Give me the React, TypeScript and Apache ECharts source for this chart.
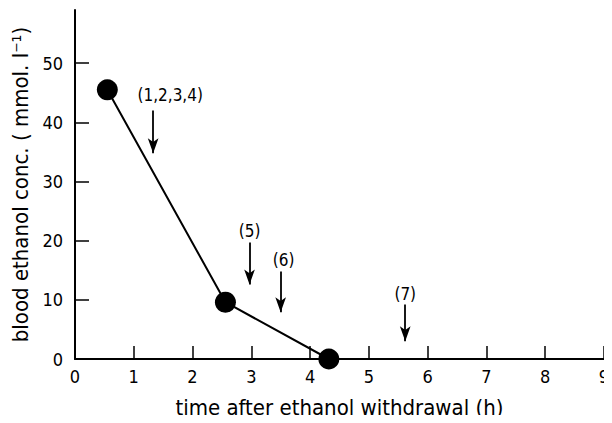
import React, { useEffect, useRef } from "react";
import * as echarts from "echarts";

// measured data (time in h, blood ethanol in mmol/l)
const timeH = [0.55, 2.56, 4.32];
const ethanol = [45.5, 9.6, 0];

// arrows marking sampling points
const arrowLabels = ["(1,2,3,4)", "(5)", "(6)", "(7)"];
const arrowX = [1.33, 2.97, 3.5, 5.62];
const arrowTop = [42, 19.7, 14.8, 9.2];
const arrowTip = [34.8, 12.6, 7.9, 3.0];
const labelX = [1.62, 2.97, 3.55, 5.62];
const labelY = [44.6, 21.6, 16.8, 11.0];

const xTicks = [0, 1, 2, 3, 4, 5, 6, 7, 8, 9];
const yTicks = [0, 10, 20, 30, 40, 50];

const FONT = "'DejaVu Sans Condensed', 'Liberation Sans Narrow', 'DejaVu Sans', sans-serif";

export default function App() {
  const ref = useRef<HTMLDivElement>(null);
  useEffect(() => {
    if (!ref.current) return;
    const chart = echarts.init(ref.current, undefined, { renderer: "svg" });
    const arrowLines = arrowX.map((x, i) => [
      { coord: [x, arrowTop[i]] },
      { coord: [x, arrowTip[i]] },
    ]);
    chart.setOption({
      animation: false,
      backgroundColor: "#fff",
      grid: { left: 75, right: 6, top: 10, bottom: 63, containLabel: false },
      xAxis: {
        type: "value",
        min: 0,
        max: 9,
        interval: 1,
        name: "time after ethanol withdrawal (h)",
        nameLocation: "middle",
        nameGap: 37,
        nameTextStyle: { fontFamily: FONT, fontSize: 22, color: "#000" },
        axisLine: { show: true, lineStyle: { color: "#000", width: 2 } },
        axisTick: { show: true, inside: true, length: 13, lineStyle: { color: "#000", width: 1.5 }, customValues: xTicks },
        axisLabel: { margin: 8, fontFamily: FONT, fontSize: 18, color: "#000", customValues: xTicks },
        splitLine: { show: false },
      },
      yAxis: {
        type: "value",
        min: 0,
        max: 59,
        name: "blood ethanol conc. ( mmol. l\u207B\u00B9)",
        nameLocation: "middle",
        nameGap: 43,
        nameTextStyle: { fontFamily: FONT, fontSize: 22, color: "#000" },
        axisLine: { show: true, lineStyle: { color: "#000", width: 2 } },
        axisTick: { show: true, inside: true, length: 14, lineStyle: { color: "#000", width: 1.5 }, customValues: yTicks },
        axisLabel: { margin: 12, fontFamily: FONT, fontSize: 18, color: "#000", customValues: yTicks },
        splitLine: { show: false },
      },
      series: [
        {
          type: "line",
          data: timeH.map((t, i) => [t, ethanol[i]]),
          symbol: "circle",
          symbolSize: 21,
          showAllSymbol: true,
          lineStyle: { color: "#000", width: 2 },
          itemStyle: { color: "#000" },
          z: 3,
          markLine: {
            silent: true,
            symbol: ["none", "arrow"],
            symbolSize: [8, 15],
            label: { show: false },
            lineStyle: { color: "#000", width: 1.8, type: "solid" },
            data: arrowLines,
          },
        },
        {
          type: "scatter",
          data: labelX.map((x, i) => ({ value: [x, labelY[i]], name: arrowLabels[i] })),
          symbolSize: 0,
          itemStyle: { color: "#000", opacity: 1 },
          label: {
            show: true,
            position: "inside",
            formatter: (p: any) => p.name,
            fontFamily: FONT,
            fontSize: 17,
            color: "#000",
            opacity: 1,
            textBorderWidth: 0,
          },
          silent: true,
        },
      ],
    });
    return () => chart.dispose();
  }, []);
  return <div ref={ref} style={{ width: 612, height: 423, margin: -8 }} />;
}
